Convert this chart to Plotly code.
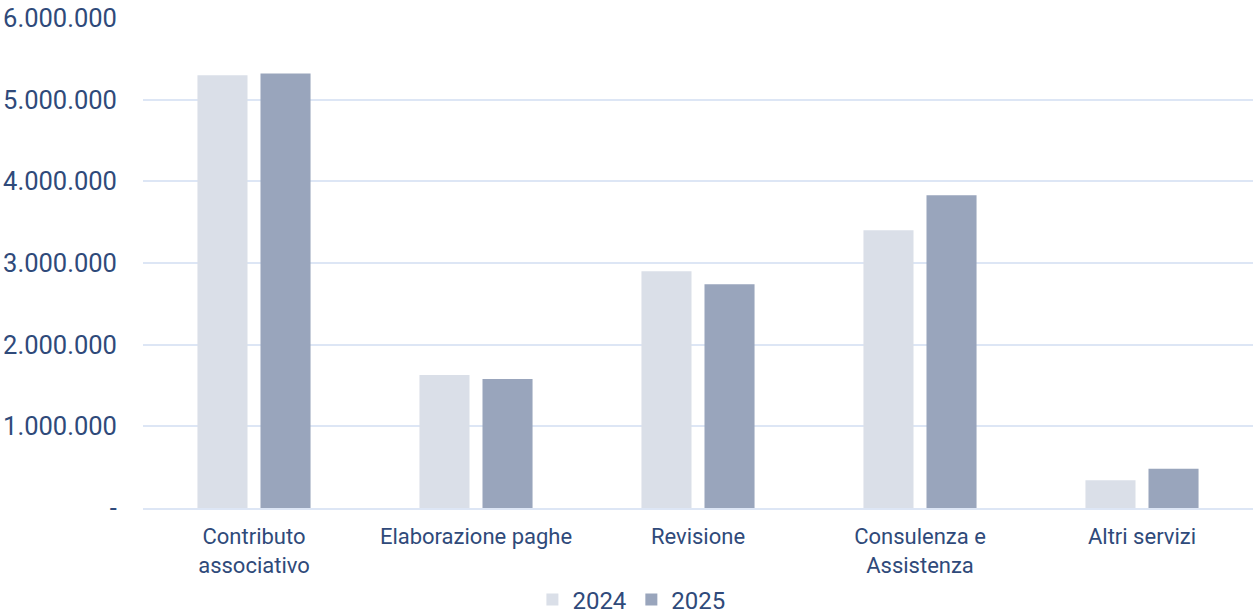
import plotly.graph_objects as go

categories = ["Contributo<br>associativo", "Elaborazione paghe", "Revisione", "Consulenza e<br>Assistenza", "Altri servizi"]
values_2024 = [5300000, 1630000, 2900000, 3400000, 340000]
values_2025 = [5320000, 1580000, 2740000, 3830000, 480000]
tick_vals = [0, 1000000, 2000000, 3000000, 4000000, 5000000, 6000000]
tick_text = ["-", "1.000.000", "2.000.000", "3.000.000", "4.000.000", "5.000.000", "6.000.000"]

TEXT = "#2f4a7a"
fig = go.Figure()
fig.add_bar(name="2024", x=categories, y=values_2024, marker=dict(color="#dadfe8", line=dict(width=0)))
fig.add_bar(name="2025", x=categories, y=values_2025, marker=dict(color="#99a5bc", line=dict(width=0)))

fig.update_layout(
    width=1255, height=614,
    margin=dict(l=143, r=2, t=18, b=106, autoexpand=False),
    paper_bgcolor="white", plot_bgcolor="white",
    barmode="group", bargap=0.432, bargroupgap=0.206,
    font=dict(family="Roboto", size=22, color=TEXT),
    showlegend=True,
    legend=dict(orientation="h", x=0.44, xanchor="center", yref="container", y=0.023, yanchor="middle",
                font=dict(size=24, color=TEXT), itemwidth=30, tracegroupgap=0),
    xaxis=dict(showgrid=False, showline=True, linecolor="#dde6f5", linewidth=1.5, automargin=False,
               ticks="outside", ticklen=8, tickcolor="rgba(0,0,0,0)", tickfont=dict(size=22, color=TEXT)),
    yaxis=dict(range=[0, 6000000], tickvals=tick_vals, ticktext=tick_text, automargin=False,
               showgrid=True, gridcolor="#dde6f5", gridwidth=1.5, zeroline=False,
               ticks="outside", ticklen=20, tickcolor="rgba(0,0,0,0)", ticklabeloverflow="allow",
               tickfont=dict(size=25.5, color=TEXT)),
)
fig.write_html("out.html", config={"displayModeBar": False},
               post_script="document.body.style.margin='0';")
